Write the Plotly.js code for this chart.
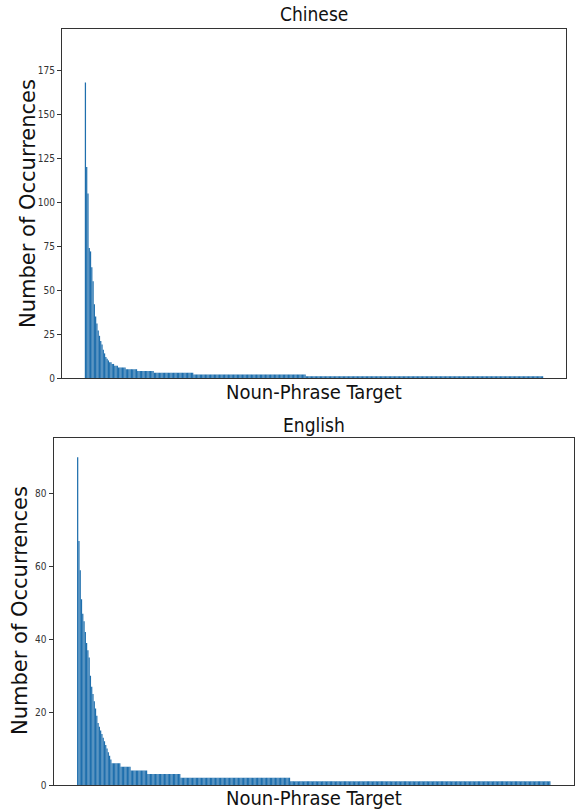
<!DOCTYPE html>
<html><head><meta charset="utf-8">
<script src="https://cdn.plot.ly/plotly-3.0.1.min.js"></script>
<style>html,body{margin:0;padding:0;background:#fff}#chart{width:576px;height:810px}</style>
</head><body><div id="chart"></div>
<script>
// Chinese: leading (distinct) counts, then runs of repeated counts
const zhHead = [168, 120, 105, 74, 72, 63, 55, 42, 35, 31, 27, 24, 21, 19, 16, 14, 12, 11, 10, 9, 9, 8, 8, 7, 7, 7];
const zhRunValues = [6, 5, 4, 3, 2, 1];
const zhRunLengths = [6, 9, 13, 31, 88, 186];

// English
const enHead = [90, 67, 59, 51, 47, 45, 42, 39, 37, 35, 30, 27, 25, 23, 21, 19, 17, 16, 15, 14, 13, 12, 11, 10, 9, 8, 7];
const enRunValues = [6, 5, 4, 3, 2, 1];
const enRunLengths = [7, 8, 13, 26, 86, 204];

const titles = ["Chinese", "English"];
const xLabel = "Noun-Phrase Target";
const yLabel = "Number of Occurrences";
const zhTicks = [0, 25, 50, 75, 100, 125, 150, 175];
const enTicks = [0, 20, 40, 60, 80];

function expand(head, vals, lens) {
  const out = head.slice();
  vals.forEach((v, i) => { for (let k = 0; k < lens[i]; k++) out.push(v); });
  return out;
}
const zh = expand(zhHead, zhRunValues, zhRunLengths);
const en = expand(enHead, enRunValues, enRunLengths);

function xr(n) { const d = n - 0.2; return [-0.4 - 0.05 * d, n - 1 + 0.4 + 0.05 * d]; }

const W = 576, H = 810;
const px = x => x / W, py = y => 1 - y / H;
const FONT = '"DejaVu Sans Condensed", "DejaVu Sans", sans-serif';
const FONT_V = '"DejaVu Sans", sans-serif';
const BLUE = '#1f6fad';

const traces = [
  {type: 'bar', x: zh.map((_, i) => i), y: zh, xaxis: 'x', yaxis: 'y',
   marker: {color: BLUE, line: {width: 0}}, hoverinfo: 'y'},
  {type: 'bar', x: en.map((_, i) => i), y: en, xaxis: 'x2', yaxis: 'y2',
   marker: {color: BLUE, line: {width: 0}}, hoverinfo: 'y'}
];

const axBase = {showline: true, mirror: true, linecolor: '#333', linewidth: 1,
  showgrid: false, zeroline: false};

const layout = {
  width: W, height: H,
  margin: {l: 0, r: 0, t: 0, b: 0},
  paper_bgcolor: '#fff', plot_bgcolor: '#fff',
  showlegend: false, bargap: 0.03,
  font: {family: FONT, color: '#222'},
  xaxis: Object.assign({}, axBase, {domain: [px(62), px(566)], range: xr(zh.length),
    showticklabels: false, ticks: '', anchor: 'y'}),
  yaxis: Object.assign({}, axBase, {domain: [py(378), py(29)], range: [0, 198.5],
    tickvals: zhTicks, ticks: 'outside', ticklen: 4, tickcolor: '#333',
    tickfont: {size: 10, color: '#333', family: FONT}, anchor: 'x'}),
  xaxis2: Object.assign({}, axBase, {domain: [px(53.5), px(574)], range: xr(en.length),
    showticklabels: false, ticks: '', anchor: 'y2'}),
  yaxis2: Object.assign({}, axBase, {domain: [py(785), py(438)], range: [0, 95.3],
    tickvals: enTicks, ticks: 'outside', ticklen: 4, tickcolor: '#333',
    tickfont: {size: 10, color: '#333', family: FONT}, anchor: 'x2'}),
  annotations: [
    {text: titles[0], x: px(314), y: py(14), xref: 'paper', yref: 'paper', showarrow: false,
     xanchor: 'center', yanchor: 'middle', font: {size: 19, family: FONT, color: '#111'}},
    {text: xLabel, x: px(314), y: py(392), xref: 'paper', yref: 'paper', showarrow: false,
     xanchor: 'center', yanchor: 'middle', font: {size: 20, family: FONT, color: '#111'}},
    {text: yLabel, x: px(28), y: py(204), xref: 'paper', yref: 'paper', showarrow: false,
     textangle: -90, xanchor: 'center', yanchor: 'middle', font: {size: 21, family: FONT_V, color: '#111'}},
    {text: titles[1], x: px(314), y: py(425), xref: 'paper', yref: 'paper', showarrow: false,
     xanchor: 'center', yanchor: 'middle', font: {size: 19, family: FONT, color: '#111'}},
    {text: xLabel, x: px(314), y: py(798), xref: 'paper', yref: 'paper', showarrow: false,
     xanchor: 'center', yanchor: 'middle', font: {size: 20, family: FONT, color: '#111'}},
    {text: yLabel, x: px(20), y: py(611), xref: 'paper', yref: 'paper', showarrow: false,
     textangle: -90, xanchor: 'center', yanchor: 'middle', font: {size: 21, family: FONT_V, color: '#111'}}
  ]
};

Plotly.newPlot('chart', traces, layout, {staticPlot: true, displayModeBar: false});
</script>
</body></html>
